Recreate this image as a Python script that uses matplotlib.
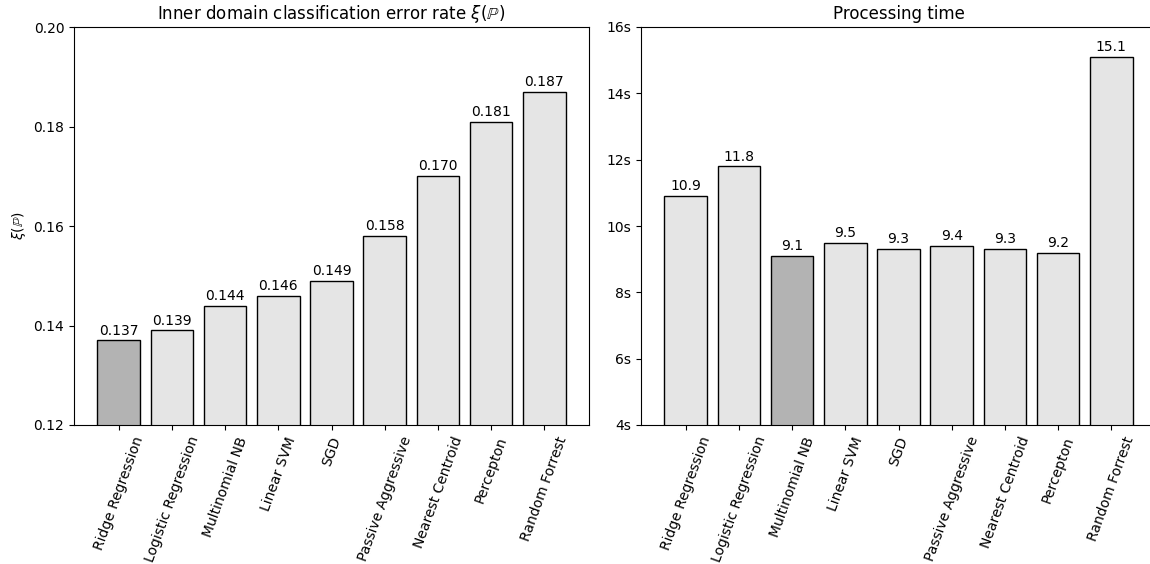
import numpy as np
import matplotlib.pyplot as plt
from matplotlib.ticker import FuncFormatter

models = ['Ridge Regression', 'Logistic Regression', 'Multinomial NB', 'Linear SVM',
          'SGD', 'Passive Aggressive', 'Nearest Centroid', 'Percepton', 'Random Forrest']
error_rate = [0.137, 0.139, 0.144, 0.146, 0.149, 0.158, 0.170, 0.181, 0.187]
proc_time = [10.9, 11.8, 9.1, 9.5, 9.3, 9.4, 9.3, 9.2, 15.1]

light = '#e5e5e5'
dark = '#b3b3b3'

fig = plt.figure(figsize=(11.5, 5.64), dpi=100)
ax1 = fig.add_axes([74 / 1150, 139 / 564, 515 / 1150, 398 / 564])
ax2 = fig.add_axes([641 / 1150, 139 / 564, 515 / 1150, 398 / 564])

x = np.arange(len(models))

# error rate, best model highlighted
c1 = [dark if v == min(error_rate) else light for v in error_rate]
b1 = ax1.bar(x, error_rate, width=0.8, color=c1, edgecolor='black')
ax1.bar_label(b1, fmt='%.3f', padding=2)
ax1.set_ylim(0.12, 0.20)
ax1.set_yticks(np.arange(0.12, 0.201, 0.02))
ax1.yaxis.set_major_formatter(FuncFormatter(lambda v, p: f'{v:.2f}'))
ax1.set_ylabel(r'$\xi(\mathbb{P})$')
ax1.set_title(r'Inner domain classification error rate $\xi(\mathbb{P})$')
ax1.set_xticks(x)
ax1.set_xticklabels(models, rotation=70)

# processing time, fastest highlighted
c2 = [dark if v == min(proc_time) else light for v in proc_time]
b2 = ax2.bar(x, proc_time, width=0.8, color=c2, edgecolor='black')
ax2.bar_label(b2, fmt='%.1f', padding=2)
ax2.set_ylim(4, 16)
ax2.set_yticks(np.arange(4, 17, 2))
ax2.yaxis.set_major_formatter(FuncFormatter(lambda v, p: f'{v:.0f}s'))
ax2.set_title('Processing time')
ax2.set_xticks(x)
ax2.set_xticklabels(models, rotation=70)

fig.savefig('out.png', dpi=100)
